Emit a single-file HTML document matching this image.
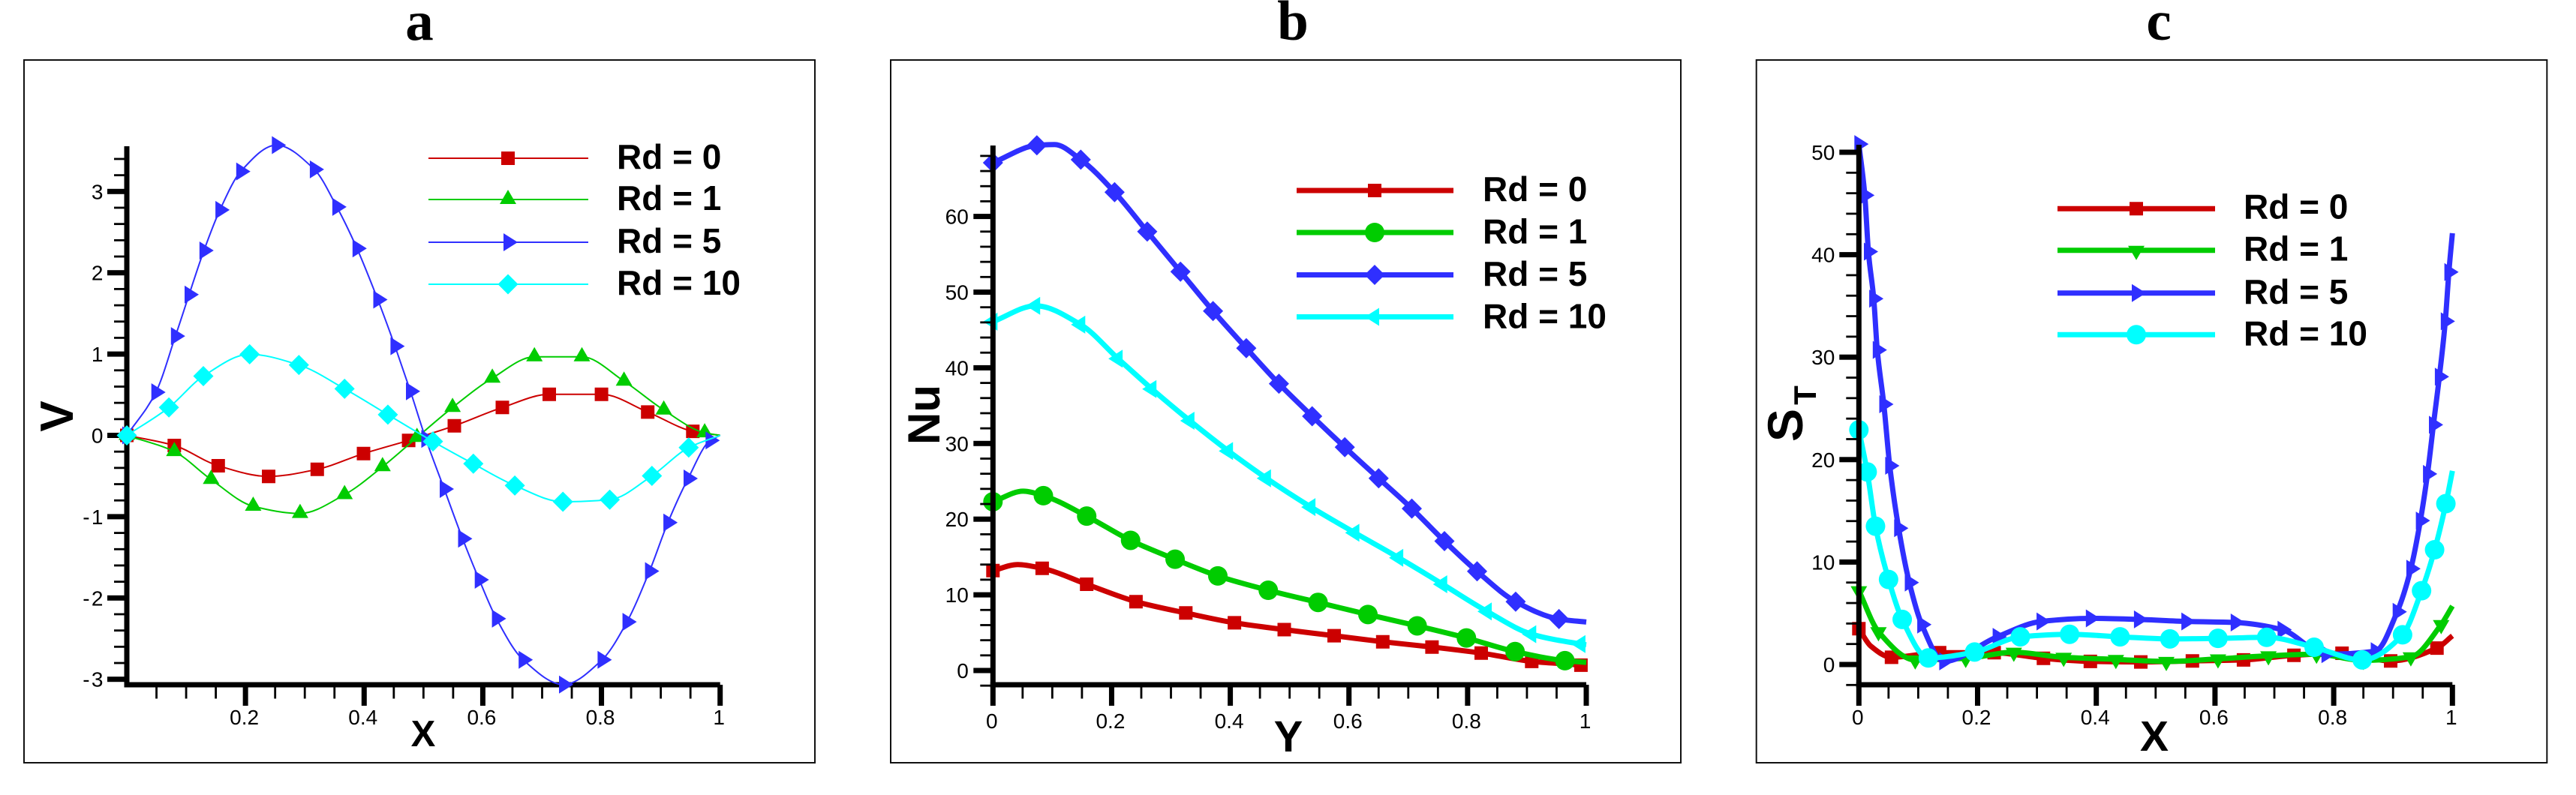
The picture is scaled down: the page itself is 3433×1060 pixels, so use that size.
<!DOCTYPE html>
<html lang="en">
<head>
<meta charset="utf-8">
<title>V, Nu and ST profiles for several Rd values</title>
<style>
html,body{margin:0;padding:0;background:#fff;}
svg{display:block;}
text{font-family:"Liberation Sans",Arial,sans-serif;fill:#000;}
.panel-title{font-family:"Liberation Serif","Times New Roman",serif;font-weight:bold;font-size:75px;text-anchor:middle;}
.axis-title{font-weight:bold;}
.tick{font-size:28px;}
.legend{font-size:46px;font-weight:bold;}
</style>
</head>
<body>
<svg id="figure" xmlns="http://www.w3.org/2000/svg" width="3433" height="1060" viewBox="0 0 3433 1060">
  <rect x="0" y="0" width="3433" height="1060" fill="#fff"/>
  <text class="panel-title" x="559" y="53">a</text>
  <text class="panel-title" x="1723" y="53">b</text>
  <text class="panel-title" x="2877" y="53">c</text>
  <g id="panel-a"></g>
  <g id="panel-b"></g>
  <g id="panel-c"></g>
  <text class="axis-title" x="564" y="995" font-size="49" text-anchor="middle">X</text>
  <text class="axis-title" transform="translate(97,555) rotate(-90)" font-size="62" text-anchor="middle">V</text>
  <text class="axis-title" x="1717" y="1002" font-size="58" text-anchor="middle">Y</text>
  <text class="axis-title" transform="translate(1252,553) rotate(-90)" font-size="60" text-anchor="middle">Nu</text>
  <text class="axis-title" x="2871" y="1001" font-size="57" text-anchor="middle">X</text>
  <text class="axis-title" transform="translate(2402,567) rotate(-90)" font-size="66" text-anchor="middle">S</text>
  <text class="axis-title" transform="translate(2420,527) rotate(-90)" font-size="42" text-anchor="middle">T</text>
</svg>
<script>
// ---- shared ----
const legendLabels = ['Rd = 0', 'Rd = 1', 'Rd = 5', 'Rd = 10'];
const seriesColors = ['#cc0000', '#00cc00', '#2f2fff', '#00ffff'];

// ---- panel a: V against X ----
const aXTicks = [0.2, 0.4, 0.6, 0.8, 1];
const aYTicks = [-3, -2, -1, 0, 1, 2, 3];
const aRd0X = [0, .080, .154, .239, .321, .399, .475, .552, .633, .712, .800, .878, .954, 1];
const aRd0Y = [0, -.125, -.374, -.505, -.417, -.224, -.062, .118, .343, .505, .505, .287, .050, 0];
const aRd1X = [0, .080, .142, .213, .292, .367, .431, .489, .549, .616, .687, .767, .838, .905, .974, 1];
const aRd1Y = [0, -.199, -.542, -.872, -.96, -.729, -.386, -.025, .343, .704, .966, .966, .667, .312, .031, 0];
const aRd5X = [0, .049, .082, .105, .130, .157, .192, .252, .316, .354, .388, .423, .452, .478, .504, .535, .566, .594, .623, .668, .736, .801, .843, .881, .912, .946, .983, 1];
const aRd5Y = [0, .530, 1.221, 1.732, 2.274, 2.773, 3.246, 3.570, 3.271, 2.810, 2.299, 1.670, 1.097, .542, -.044, -.660, -1.271, -1.776, -2.255, -2.760, -3.065, -2.760, -2.293, -1.670, -1.072, -.530, -.062, 0];
const aRd10X = [0, .071, .129, .207, .290, .367, .440, .516, .584, .654, .735, .814, .885, .947, 1];
const aRd10Y = [0, .343, .729, .997, .866, .573, .255, -.075, -.349, -.617, -.816, -.791, -.498, -.150, 0];

// ---- panel b: Nu against Y ----
const bXTicks = [0, 0.2, 0.4, 0.6, 0.8, 1];
const bYTicks = [0, 10, 20, 30, 40, 50, 60];
const bRd0X = [0, .042, .083, .158, .241, .325, .407, .491, .575, .657, .740, .823, .908, .991, 1];
const bRd0Y = [13.2, 14.0, 13.5, 11.4, 9.1, 7.6, 6.3, 5.4, 4.6, 3.8, 3.1, 2.3, 1.2, .7, .6];
const bRd1X = [0, .051, .085, .158, .232, .307, .379, .464, .548, .632, .715, .798, .880, .964, 1];
const bRd1Y = [22.3, 23.7, 23.1, 20.4, 17.2, 14.7, 12.5, 10.6, 9.0, 7.4, 5.9, 4.3, 2.5, 1.3, 1.07];
const bRd5X = [0, .074, .104, .148, .205, .260, .316, .371, .427, .482, .538, .593, .650, .706, .761, .816, .881, .954, 1];
const bRd5Y = [67.1, 69.4, 69.5, 67.5, 63.2, 58.0, 52.7, 47.5, 42.6, 37.9, 33.6, 29.5, 25.4, 21.4, 17.1, 13.1, 9.1, 6.8, 6.4];
const bRd10X = [0, .072, .148, .211, .268, .332, .397, .461, .536, .610, .684, .758, .833, .908, .991, 1];
const bRd10Y = [46.1, 48.2, 45.7, 41.2, 37.2, 33.0, 29.0, 25.4, 21.6, 18.2, 14.9, 11.4, 7.8, 4.8, 3.5, 3.4];

// ---- panel c: ST against X ----
const cXTicks = [0, 0.2, 0.4, 0.6, 0.8, 1];
const cYTicks = [0, 10, 20, 30, 40, 50];
const cRd0X = [0, .02, .055, .136, .228, .311, .390, .475, .562, .648, .733, .814, .896, .974, 1];
const cRd0Y = [3.5, 1.8, .7, 1.15, 1.15, .6, .3, .25, .35, .45, .9, 1.1, .35, 1.6, 2.8];
const cRd1X = [0, .033, .095, .180, .261, .345, .433, .518, .605, .690, .771, .85, .93, .981, 1];
const cRd1Y = [7.2, 3.2, .45, .6, 1.2, .7, .5, .3, .55, .85, 1.0, .4, .75, 3.9, 5.7];
const cRd5X = [0, .010, .016, .025, .031, .042, .052, .067, .085, .106, .143, .233, .307, .390, .471, .551, .634, .713, .787, .870, .907, .930, .946, .958, .968, .978, .988, .994, 1];
const cRd5Y = [50.8, 45.8, 40.3, 35.7, 30.7, 25.4, 19.4, 13.3, 8.0, 3.9, .3, 2.7, 4.2, 4.5, 4.4, 4.2, 4.1, 3.4, 1.0, 1.3, 5.15, 9.35, 14.05, 18.6, 23.4, 28.1, 33.5, 38.3, 42.1];
const cRd10X = [0, .014, .028, .050, .073, .117, .195, .272, .355, .440, .524, .605, .687, .767, .848, .916, .948, .970, .989, 1];
const cRd10Y = [22.9, 18.8, 13.5, 8.3, 4.4, .64, 1.22, 2.7, 2.95, 2.7, 2.5, 2.55, 2.65, 1.68, .45, 2.9, 7.2, 11.2, 15.7, 18.9];

const SVGNS = 'http://www.w3.org/2000/svg';

function make(parent, tag, attrs) {
  const el = document.createElementNS(SVGNS, tag);
  for (const k in attrs) el.setAttribute(k, attrs[k]);
  parent.appendChild(el);
  return el;
}

function monotonePath(px, py) {
  const n = px.length;
  const slope = [];
  for (let i = 0; i < n - 1; i++) slope.push((py[i + 1] - py[i]) / (px[i + 1] - px[i]));
  const t = new Array(n);
  t[0] = slope[0];
  t[n - 1] = slope[n - 2];
  for (let i = 1; i < n - 1; i++) {
    if (slope[i - 1] * slope[i] <= 0) { t[i] = 0; continue; }
    const h0 = px[i] - px[i - 1], h1 = px[i + 1] - px[i];
    const w1 = 2 * h1 + h0, w2 = h1 + 2 * h0;
    t[i] = (w1 + w2) / (w1 / slope[i - 1] + w2 / slope[i]);
  }
  let d = 'M' + px[0].toFixed(1) + ' ' + py[0].toFixed(1);
  for (let i = 0; i < n - 1; i++) {
    const h = (px[i + 1] - px[i]) / 3;
    d += 'C' + (px[i] + h).toFixed(1) + ' ' + (py[i] + t[i] * h).toFixed(1) + ' ' +
         (px[i + 1] - h).toFixed(1) + ' ' + (py[i + 1] - t[i + 1] * h).toFixed(1) + ' ' +
         px[i + 1].toFixed(1) + ' ' + py[i + 1].toFixed(1);
  }
  return d;
}

function marker(parent, shape, cx, cy, color) {
  let el;
  if (shape === 'circle') {
    el = make(parent, 'circle', { cx: cx, cy: cy, r: 13, fill: color });
  } else {
    const outlines = {
      square: [[-9, -9], [9, -9], [9, 9], [-9, 9]],
      up: [[0, -13], [11, 6], [-11, 6]],
      down: [[0, 13], [11, -6], [-11, -6]],
      right: [[13, 0], [-6, 12], [-6, -12]],
      left: [[-13, 0], [6, 12], [6, -12]],
      diamond: [[0, -13.5], [13.5, 0], [0, 13.5], [-13.5, 0]]
    };
    const pts = outlines[shape].map(function (p) { return (cx + p[0]).toFixed(1) + ',' + (cy + p[1]).toFixed(1); }).join(' ');
    el = make(parent, 'polygon', { points: pts, fill: color });
  }
  return el;
}

function drawPanel(cfg) {
  const g = document.getElementById(cfg.id);
  const sx = function (v) { return cfg.x0 + cfg.xScale * v; };
  const sy = function (v) { return cfg.y0 - cfg.yScale * v; };

  const frame = make(g, 'rect', { x: cfg.frame[0], y: cfg.frame[1], width: cfg.frame[2] - cfg.frame[0], height: cfg.frame[3] - cfg.frame[1], fill: 'none', stroke: '#111', 'stroke-width': 2 });
  
  

  function drawAxes() {
    const axes = make(g, 'g', {});
    
    
    const yAxis = make(axes, 'rect', { x: cfg.x0 - 3.5, y: cfg.axisTop, width: 7, height: cfg.axisY + 3.5 - cfg.axisTop, fill: '#000' });
    
    
    const xAxis = make(axes, 'rect', { x: cfg.x0 - 3.5, y: cfg.axisY - 3.5, width: cfg.xScale + 3.5, height: 7, fill: '#000' });
    
    

    for (let k = cfg.yMinorFrom; k <= cfg.yMinorTo + 1e-9; k += cfg.yMinorStep) {
      const v = Math.round(k * 1000) / 1000;
      if (cfg.yTicks.indexOf(v) >= 0) continue;
      const m = make(axes, 'rect', { x: cfg.x0 - 17, y: sy(v) - 1.4, width: 14, height: 2.8, fill: '#000' });
      
      
    }
    cfg.yTicks.forEach(function (v) {
      const t = make(axes, 'rect', { x: cfg.x0 - 26, y: sy(v) - 3.5, width: 23, height: 7, fill: '#000' });
      
      
      const l = make(axes, 'text', { class: 'tick', x: cfg.x0 - cfg.yLabelGap, y: sy(v) + 10, 'text-anchor': 'end' });
      l.textContent = String(v).replace('-', '-\u200a');
      
      
    });
    for (let i = 1; i < 20; i++) {
      const v = i * 0.05;
      if (i % 4 === 0) continue;
      const m = make(axes, 'rect', { x: sx(v) - 1.4, y: cfg.axisY + 3, width: 2.8, height: 15.5, fill: '#000' });
      
      
    }
    cfg.xTicks.forEach(function (v) {
      const t = make(axes, 'rect', { x: sx(v) - 3.5, y: cfg.axisY, width: 7, height: 28, fill: '#000' });
      
      
      const l = make(axes, 'text', { class: 'tick', x: sx(v) - 1.5, y: cfg.xLabelY, 'text-anchor': 'middle' });
      l.textContent = String(v);
      
      
    });
  }

  function drawSeries() {
    cfg.series.forEach(function (s, i) {
      const sg = make(g, 'g', {});
      
      
      const px = s.x.map(sx);
      const py = s.y.map(sy);
      const line = make(sg, 'path', { d: monotonePath(px, py), fill: 'none', stroke: seriesColors[i], 'stroke-width': cfg.lineWidth, 'stroke-linejoin': 'round' });
      
      
      px.forEach(function (xp, j) {
        if (s.skip.indexOf(j) >= 0) return;
        const mk = marker(sg, s.shape, xp, py[j], seriesColors[i]);
        
        
      });
    });
  }

  if (cfg.axesOnTop) { drawSeries(); drawAxes(); } else { drawAxes(); drawSeries(); }

  const lg = make(g, 'g', {});
  
  
  legendLabels.forEach(function (label, i) {
    const ly = cfg.legendLineY[i];
    const ln = make(lg, 'line', { x1: cfg.legendX[0], x2: cfg.legendX[1], y1: ly, y2: ly, stroke: seriesColors[i], 'stroke-width': cfg.lineWidth });
    
    
    const mk = marker(lg, cfg.series[i].shape, cfg.legendX[2], ly, seriesColors[i]);
    
    
    const tx = make(lg, 'text', { class: 'legend', x: cfg.legendX[3], y: cfg.legendTextY[i] });
    tx.textContent = label;
    
    
  });
}

drawPanel({
  id: 'panel-a', frame: [32, 80, 1086, 1017],
  x0: 169, xScale: 790.7, y0: 580.5, yScale: 108.4, axisY: 913, axisTop: 195,
  xTicks: aXTicks, yTicks: aYTicks,
  yMinorFrom: -3, yMinorTo: 3.4, yMinorStep: 0.2, yLabelGap: 31.5, xLabelY: 966,
  lineWidth: 2, axesOnTop: false,
  series: [
    { x: aRd0X, y: aRd0Y, shape: 'square', skip: [13] },
    { x: aRd1X, y: aRd1Y, shape: 'up', skip: [15] },
    { x: aRd5X, y: aRd5Y, shape: 'right', skip: [27] },
    { x: aRd10X, y: aRd10Y, shape: 'diamond', skip: [14] }
  ],
  legendX: [571, 784, 677, 822], legendLineY: [211, 266, 323, 379],
  legendTextY: [225, 280, 337, 393]
});

drawPanel({
  id: 'panel-b', frame: [1187, 80, 2240, 1017],
  x0: 1323.3, xScale: 790.7, y0: 894, yScale: 10.09, axisY: 913, axisTop: 194,
  xTicks: bXTicks, yTicks: bYTicks,
  yMinorFrom: -2, yMinorTo: 68, yMinorStep: 2, yLabelGap: 32.5, xLabelY: 971,
  lineWidth: 7, axesOnTop: true,
  series: [
    { x: bRd0X, y: bRd0Y, shape: 'square', skip: [1, 14] },
    { x: bRd1X, y: bRd1Y, shape: 'circle', skip: [1, 14] },
    { x: bRd5X, y: bRd5Y, shape: 'diamond', skip: [2, 18] },
    { x: bRd10X, y: bRd10Y, shape: 'left', skip: [15] }
  ],
  legendX: [1728, 1937, 1832, 1976], legendLineY: [254, 310, 366.5, 422.5],
  legendTextY: [268, 324.5, 381, 437.5]
});

drawPanel({
  id: 'panel-c', frame: [2340.7, 80, 3394.3, 1017],
  x0: 2477.3, xScale: 791, y0: 886, yScale: 13.66, axisY: 913, axisTop: 193,
  xTicks: cXTicks, yTicks: cYTicks,
  yMinorFrom: -2, yMinorTo: 48, yMinorStep: 2, yLabelGap: 32, xLabelY: 966,
  lineWidth: 7, axesOnTop: true,
  series: [
    { x: cRd0X, y: cRd0Y, shape: 'square', skip: [1, 14] },
    { x: cRd1X, y: cRd1Y, shape: 'down', skip: [14] },
    { x: cRd5X, y: cRd5Y, shape: 'right', skip: [28] },
    { x: cRd10X, y: cRd10Y, shape: 'circle', skip: [19] }
  ],
  legendX: [2742, 2952, 2847, 2990], legendLineY: [278.3, 333.7, 390.7, 446.3],
  legendTextY: [291.5, 347.5, 405, 460.5]
});
</script>
</body>
</html>
